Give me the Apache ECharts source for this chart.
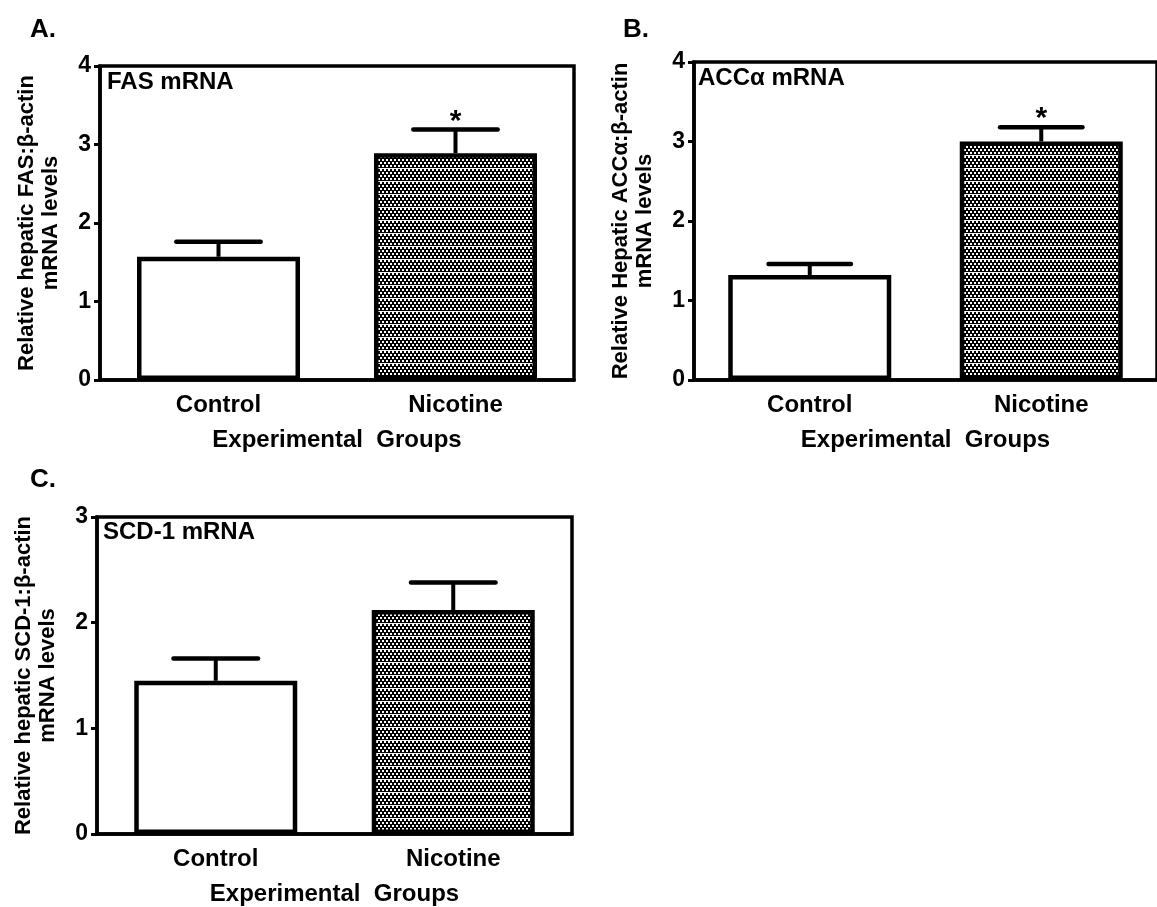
<!DOCTYPE html>
<html>
<head>
<meta charset="utf-8">
<script src="https://cdn.jsdelivr.net/npm/echarts@6/dist/echarts.min.js"></script>
<style>
html,body{margin:0;padding:0;background:#fff;}
#chart{width:1157px;height:907px;}
</style>
</head>
<body>
<div id="chart"></div>
<script>
// ---- data ----
const categories = ['Control', 'Nicotine'];
const fasMean = [1.57, 2.89];
const fasSem  = [0.19, 0.30];
const fasSig  = ['', '*'];
const accMean = [1.32, 3.00];
const accSem  = [0.14, 0.18];
const accSig  = ['', '*'];
const scdMean = [1.45, 2.12];
const scdSem  = [0.21, 0.26];
const scdSig  = ['', ''];
const fasMax = 4, accMax = 4, scdMax = 3;

const FONT = '"Liberation Sans", Arial, sans-serif';

// dotted fill pattern for Nicotine bars
function makePattern() {
  const c = document.createElement('canvas');
  c.width = 4; c.height = 13;
  const ctx = c.getContext('2d');
  ctx.fillStyle = '#000'; ctx.fillRect(0, 0, 4, 13);
  ctx.fillStyle = '#fff';
  ctx.fillRect(0, 0, 2, 2);
  ctx.fillRect(2, 3, 2, 2);
  ctx.fillRect(0, 6, 2, 2);
  ctx.fillRect(2, 9, 2, 2);
  ctx.fillStyle = '#f4f4f4';
  ctx.fillRect(0, 12, 4, 1);
  return c;
}
const pattern = { image: makePattern(), repeat: 'repeat' };

const panels = [
  { mean: fasMean, sem: fasSem, sig: fasSig, max: fasMax,
    grid: { left: 100, top: 66, width: 474, height: 314 },
    yName: 'Relative hepatic FAS:β-actin\nmRNA levels' },
  { mean: accMean, sem: accSem, sig: accSig, max: accMax,
    grid: { left: 694, top: 62, width: 474, height: 318 },
    yName: 'Relative Hepatic ACCα:β-actin\nmRNA levels' },
  { mean: scdMean, sem: scdSem, sig: scdSig, max: scdMax,
    grid: { left: 97, top: 517, width: 475, height: 318 },
    yName: 'Relative hepatic SCD-1:β-actin\nmRNA levels' }
];

const grids = [], xAxes = [], yAxes = [], series = [];
panels.forEach((p, k) => {
  grids.push(Object.assign({ show: true, borderColor: '#000', borderWidth: 3.5, containLabel: false }, p.grid));
  xAxes.push({
    type: 'category', gridIndex: k, data: categories,
    axisLine: { lineStyle: { color: '#000', width: 3.5 } },
    axisTick: { alignWithLabel: true, length: 8, lineStyle: { color: '#000', width: 3 } },
    axisLabel: { color: '#000', fontFamily: FONT, fontWeight: 'bold', fontSize: 24, margin: 13 },
    name: 'Experimental  Groups', nameLocation: 'middle', nameGap: 48,
    nameTextStyle: { color: '#000', fontFamily: FONT, fontWeight: 'bold', fontSize: 24 }
  });
  yAxes.push({
    type: 'value', gridIndex: k, min: 0, max: p.max, interval: 1,
    axisLine: { show: true, lineStyle: { color: '#000', width: 3.5 } },
    axisTick: { show: true, length: 6, lineStyle: { color: '#000', width: 3 } },
    splitLine: { show: false },
    axisLabel: { color: '#000', fontFamily: FONT, fontWeight: 'bold', fontSize: 23, margin: 9 },
    name: p.yName, nameLocation: 'middle', nameGap: 37,
    nameTextStyle: { color: '#000', fontFamily: FONT, fontWeight: 'bold', fontSize: 22, lineHeight: 24 }
  });
  series.push({
    type: 'bar', xAxisIndex: k, yAxisIndex: k, barWidth: 163,
    data: p.mean.map((v, i) => ({ value: v, itemStyle: { color: i === 0 ? '#fff' : pattern } })),
    itemStyle: { borderColor: '#000', borderWidth: 4.5 },
    z: 2, silent: true
  });
  series.push({
    type: 'custom', xAxisIndex: k, yAxisIndex: k, z: 3, silent: true,
    data: p.mean.map((v, i) => [i, v, v + p.sem[i]]),
    renderItem: function (params, api) {
      const i = params.dataIndex;
      const top = api.coord([api.value(0), api.value(1)]);
      const cap = api.coord([api.value(0), api.value(2)]);
      const band = api.size([1, 0])[0];
      const hw = band * 0.178;
      const children = [
        { type: 'line', shape: { x1: top[0], y1: top[1], x2: cap[0], y2: cap[1] },
          style: { stroke: '#000', lineWidth: 4 } },
        { type: 'line', shape: { x1: cap[0] - hw, y1: cap[1], x2: cap[0] + hw, y2: cap[1] },
          style: { stroke: '#000', lineWidth: 4.5, lineCap: 'round' } }
      ];
      if (p.sig[i]) {
        children.push({ type: 'text', x: cap[0], y: cap[1] - 8,
          style: { text: p.sig[i], font: 'bold 30px ' + FONT, fill: '#000', align: 'center', verticalAlign: 'middle' } });
      }
      return { type: 'group', children: children };
    }
  });
});

const txt = (t, x, y, size) => ({ type: 'text', x: x, y: y,
  style: { text: t, font: 'bold ' + size + 'px ' + FONT, fill: '#000' } });

const chart = echarts.init(document.getElementById('chart'), null, { renderer: 'canvas' });
chart.setOption({
  animation: false,
  backgroundColor: '#fff',
  grid: grids, xAxis: xAxes, yAxis: yAxes, series: series,
  graphic: [
    txt('A.', 30, 17, 26),
    txt('B.', 623, 17, 26),
    txt('C.', 30, 467, 26),
    txt('FAS mRNA', 107, 70, 24),
    txt('ACCα mRNA', 698, 66, 24),
    txt('SCD-1 mRNA', 103, 520, 24)
  ]
});
</script>
</body>
</html>
